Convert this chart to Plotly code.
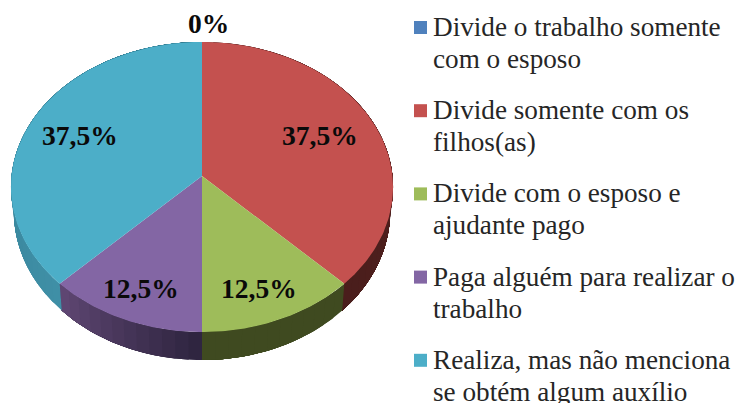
import numpy as np
import plotly.graph_objects as go

categories = [
    "Divide o trabalho somente<br>com o esposo",
    "Divide somente com os<br>filhos(as)",
    "Divide com o esposo e<br>ajudante pago",
    "Paga alguém para realizar o<br>trabalho",
    "Realiza, mas não menciona<br>se obtém algum auxílio",
]
values = [0, 37.5, 12.5, 12.5, 37.5]
colors = ["#4F81BD", "#C4514F", "#9EBC5A", "#8366A4", "#4CAEC8"]
wall_start = ["#2C4770", "#5C2422", "#3F4A20", "#2F2540", "#3F8FA6"]
wall_end = ["#2C4770", "#4A1E1C", "#3F4A20", "#5E4672", "#2F7488"]
label_pos = [(208, 23), (320, 135), (259, 288), (141, 288), (80, 135)]

CX, CY, A, B, K = 202, 176, 190.5, 144.2, 0.0759


def top(theta):
    u, v = np.sin(theta), -np.cos(theta)
    d = 1 - K * v
    return CX + A * u / d, CY + B * v / d


def bottom(theta):
    x, y = top(theta)
    return CX + (x - CX) * 0.985, y + 24 + 4 * (-np.cos(theta))


def mix(c1, c2, t):
    a = [int(c1[i:i + 2], 16) for i in (1, 3, 5)]
    b = [int(c2[i:i + 2], 16) for i in (1, 3, 5)]
    return "rgb(%d,%d,%d)" % tuple(round(p + (q - p) * t) for p, q in zip(a, b))


fig = go.Figure()
edges = np.deg2rad(np.cumsum([0] + values) * 3.6)


def fill(xs, ys, color, hover=None):
    fig.add_trace(go.Scatter(x=xs, y=ys, mode="lines", fill="toself", fillcolor=color,
                             line=dict(width=0), showlegend=False,
                             hoverinfo="text" if hover else "skip", text=hover))


# side wall: each strip runs to the end of its wedge, the next one paints over it
for i, v in enumerate(values):
    if v == 0:
        continue
    steps = np.linspace(edges[i], edges[i + 1], max(int(v) + 1, 8))
    for j in range(len(steps) - 1):
        arc = np.linspace(steps[j], edges[i + 1], 30)
        tx, ty = top(arc)
        bx, by = bottom(arc)
        col = mix(wall_start[i], wall_end[i], j / max(len(steps) - 2, 1))
        fill(np.r_[tx, bx[::-1]], np.r_[ty, by[::-1]], col)

# top face
for i, v in enumerate(values):
    arc = np.linspace(edges[i], edges[i + 1], max(int(v * 4), 2))
    tx, ty = top(arc)
    fill(np.r_[CX, tx, CX], np.r_[CY, ty, CY], colors[i], f"{categories[i]}: {v}%")

# value labels
for v, (x, y) in zip(values, label_pos):
    text = f"{v:g}".replace(".", ",") + "%"
    fig.add_annotation(x=x, y=y, text=text, showarrow=False, xanchor="center", yanchor="middle",
                       font=dict(family="Liberation Serif", size=27.5, color="#0A0A0A", weight="bold"))

# legend
SW_X, SW_Y0, GROUP, LINE, TEXT_X = 420.5, 27.5, 83.2, 32, 433
for i, cat in enumerate(categories):
    y = SW_Y0 + i * GROUP
    fig.add_trace(go.Scatter(x=[SW_X], y=[y], mode="markers", showlegend=False, hoverinfo="skip",
                             marker=dict(symbol="square", size=13, color=colors[i])))
    for k, line in enumerate(cat.split("<br>")):
        fig.add_annotation(x=TEXT_X, y=y + k * LINE - 0.5, text=line, showarrow=False, xanchor="left",
                           yanchor="middle", xshift=-2,
                           font=dict(family="Liberation Serif", size=27.2, color="#262626"))

fig.update_layout(
    width=737, height=403, margin=dict(l=0, r=0, t=0, b=0),
    paper_bgcolor="white", plot_bgcolor="white", showlegend=False,
    xaxis=dict(range=[0, 737], visible=False, fixedrange=True),
    yaxis=dict(range=[403, 0], visible=False, fixedrange=True),
)
fig.write_html("out.html", config={"displayModeBar": False},
               post_script="document.body.style.margin='0';document.documentElement.style.overflow='hidden';")
